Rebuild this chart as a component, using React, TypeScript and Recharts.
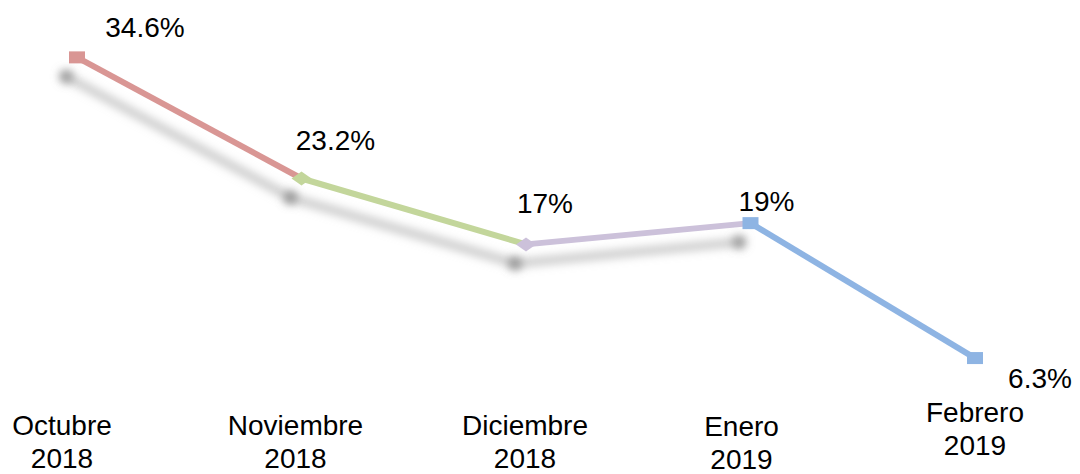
import React from 'react';
import { LineChart, Line, XAxis, YAxis } from 'recharts';

const months = ['Octubre', 'Noviembre', 'Diciembre', 'Enero', 'Febrero'];
const years = ['2018', '2018', '2018', '2019', '2019'];
const values = [34.6, 23.2, 17, 19, 6.3];
const valueLabels = ['34.6%', '23.2%', '17%', '19%', '6.3%'];
const segmentColors = ['#D99694', '#C3D69B', '#CCC1DA', '#8EB4E3'];
const markerColors = ['#D99694', '#C3D69B', '#CCC1DA', '#8EB4E3', '#8EB4E3'];
const markerShapes = ['square', 'diamond', 'diamond', 'square', 'square'];

// per-point label nudges (styling only)
const labelNudge = [
  { dx: 68, dy: -20 },
  { dx: 34, dy: -29 },
  { dx: 19, dy: -31 },
  { dx: 16, dy: -12 },
  { dx: 65, dy: 30 },
];
const tickNudge = [
  { dx: -15, dy: 0 },
  { dx: -6, dy: 0 },
  { dx: -1, dy: 0 },
  { dx: -9, dy: 1 },
  { dx: 0, dy: -13 },
];

const FONT = '"Liberation Sans", Arial, sans-serif';

const chartData = months.map((month, i) => {
  const row: Record<string, any> = { month, value: values[i], shadow: i < 4 ? values[i] : null };
  segmentColors.forEach((_, k) => {
    row[`seg${k}`] = i === k || i === k + 1 ? values[i] : null;
  });
  return row;
});

const MarkerDot = (props: any) => {
  const { cx, cy, index } = props;
  if (cx == null || cy == null) return null;
  const color = markerColors[index];
  if (markerShapes[index] === 'diamond') {
    const r = 10;
    return (
      <polygon
        key={`m-${index}`}
        points={`${cx - r},${cy} ${cx},${cy - r * 0.7} ${cx + r},${cy} ${cx},${cy + r * 0.7}`}
        fill={color}
      />
    );
  }
  return <rect key={`m-${index}`} x={cx - 8} y={cy - 6} width={16} height={12} fill={color} />;
};

const ShadowDot = (props: any) => {
  const { cx, cy, index } = props;
  if (cx == null || cy == null) return null;
  return <circle key={`s-${index}`} cx={cx} cy={cy} r={7} fill="#888" fillOpacity={0.8} filter="url(#lineShadow)" />;
};

const ValueLabel = (props: any) => {
  const { x, y, index } = props;
  const n = labelNudge[index];
  return (
    <text x={x + n.dx} y={y + n.dy} textAnchor="middle" fontSize={28} fontFamily={FONT} fill="#000">
      {valueLabels[index]}
    </text>
  );
};

const MonthTick = (props: any) => {
  const { x, y, index } = props;
  const n = tickNudge[index];
  return (
    <g>
      <text x={x + n.dx} y={y + 10 + n.dy} textAnchor="middle" fontSize={28} fontFamily={FONT} fill="#000">
        <tspan x={x + n.dx}>{months[index]}</tspan>
        <tspan x={x + n.dx} dy={33}>{years[index]}</tspan>
      </text>
    </g>
  );
};

const App: React.FC = () => {
  return (
    <div style={{ position: 'absolute', left: 0, top: 0, width: 1080, height: 474, background: '#fff' }}>
      <LineChart width={1080} height={474} data={chartData} margin={{ top: 0, right: 105, left: 77, bottom: 0 }}>
        <defs>
          <filter id="lineShadow" filterUnits="userSpaceOnUse" x="0" y="0" width="1080" height="474">
            <feOffset dx={-11} dy={19} in="SourceGraphic" result="off" />
            <feGaussianBlur in="off" stdDeviation={4} />
          </filter>
        </defs>
        <XAxis
          dataKey="month"
          axisLine={false}
          tickLine={false}
          tickSize={0}
          tickMargin={0}
          height={49}
          interval={0}
          tick={<MonthTick />}
        />
        <YAxis hide domain={[0, 40]} />
        <Line
          dataKey="shadow"
          stroke="#b8b8b8"
          strokeWidth={9}
          strokeOpacity={0.7}
          filter="url(#lineShadow)"
          dot={<ShadowDot />}
          activeDot={false}
          connectNulls={false}
          isAnimationActive={false}
        />
        {segmentColors.map((color, k) => (
          <Line
            key={k}
            dataKey={`seg${k}`}
            stroke={color}
            strokeWidth={6}
            dot={false}
            activeDot={false}
            connectNulls={false}
            isAnimationActive={false}
          />
        ))}
        <Line
          dataKey="value"
          stroke="none"
          strokeOpacity={0}
          dot={<MarkerDot />}
          activeDot={false}
          label={<ValueLabel />}
          isAnimationActive={false}
        />
      </LineChart>
    </div>
  );
};

export default App;
